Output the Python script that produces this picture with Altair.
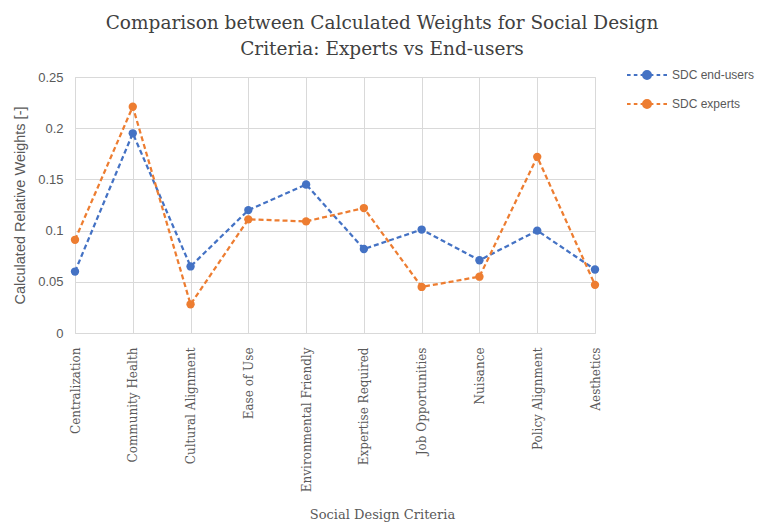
import altair as alt
import pandas as pd

criteria = ["Centralization", "Community Health", "Cultural Alignment", "Ease of Use",
            "Environmental Friendly", "Expertise Required", "Job Opportunities",
            "Nuisance", "Policy Alignment", "Aesthetics"]
end_users = [0.060, 0.195, 0.065, 0.120, 0.145, 0.082, 0.101, 0.071, 0.100, 0.062]
experts = [0.091, 0.221, 0.028, 0.111, 0.109, 0.122, 0.045, 0.055, 0.172, 0.047]
series = ["SDC end-users", "SDC experts"]
colors = ["#4472C4", "#ED7D31"]
y_ticks = [0, 0.05, 0.1, 0.15, 0.2, 0.25]

rows = []
for c, v in zip(criteria, end_users):
    rows.append({"crit": c, "val": v, "series": series[0]})
for c, v in zip(criteria, experts):
    rows.append({"crit": c, "val": v, "series": series[1]})
df = pd.DataFrame(rows)

sym = ("M-1,0L-0.82,0M-0.66,0L-0.48,0M-0.32,0L-0.2,0"
       "M0.2,0L0.32,0M0.48,0L0.66,0M0.82,0L1,0"
       "M0.2,0A0.2,0.2,0,1,1,-0.2,0A0.2,0.2,0,1,1,0.2,0Z")

color = alt.Color("series:N", scale=alt.Scale(domain=series, range=colors),
                  legend=alt.Legend(title=None, orient="none", legendX=551, legendY=-23,
                                    symbolType=sym, symbolSize=1600, symbolStrokeWidth=2,
                                    labelFont="Liberation Sans", labelFontSize=12, labelLimit=300,
                                    labelColor="#595959", rowPadding=-12, labelOffset=4))

x = alt.X("crit:N", sort=criteria, scale=alt.Scale(type="point", padding=0),
          axis=alt.Axis(title="Social Design Criteria", labelAngle=-90, labelFont="DejaVu Serif",
                        labelFontSize=12, labelColor="#595959", labelPadding=14, ticks=False,
                        domain=False, grid=True, gridColor="#d9d9d9", labelLimit=300,
                        titleFont="DejaVu Serif", titleFontSize=13, titleFontWeight="normal",
                        titleColor="#595959", titleX=307, titleY=185, titleBaseline="alphabetic"))
y = alt.Y("val:Q", scale=alt.Scale(domain=[0, 0.25], nice=False),
          axis=alt.Axis(title="Calculated Relative Weights [-]", values=y_ticks, format="~g",
                        labelFont="Liberation Sans", labelFontSize=13, labelColor="#595959",
                        labelPadding=12, ticks=False, domain=False, gridColor="#d9d9d9",
                        titleFont="Liberation Sans", titleFontSize=14.5, titleFontWeight="normal",
                        titleColor="#595959", titlePadding=10))

base = alt.Chart(df)
lines = base.mark_line(strokeDash=[5, 3], strokeWidth=2.25).encode(x=x, y=y, color=color)
points = base.mark_circle(size=70, opacity=1).encode(x=x, y=y, color=color)

chart = alt.layer(lines, points).properties(
    width=520, height=256,
    autosize=alt.AutoSizeParams(type="none"),
    padding={"left": 67, "top": 69, "right": 160, "bottom": 189},
    title=alt.TitleParams(text=["Comparison between Calculated Weights for Social Design",
                                "Criteria: Experts vs End-users"],
                          font="DejaVu Serif", fontSize=18.5, fontWeight="normal",
                          color="#404040", dx=47, dy=12, offset=8, lineHeight=26, anchor="middle"),
).configure_view(stroke="#d9d9d9")

chart.save("out.html", embed_options={"renderer": "svg", "actions": False})
